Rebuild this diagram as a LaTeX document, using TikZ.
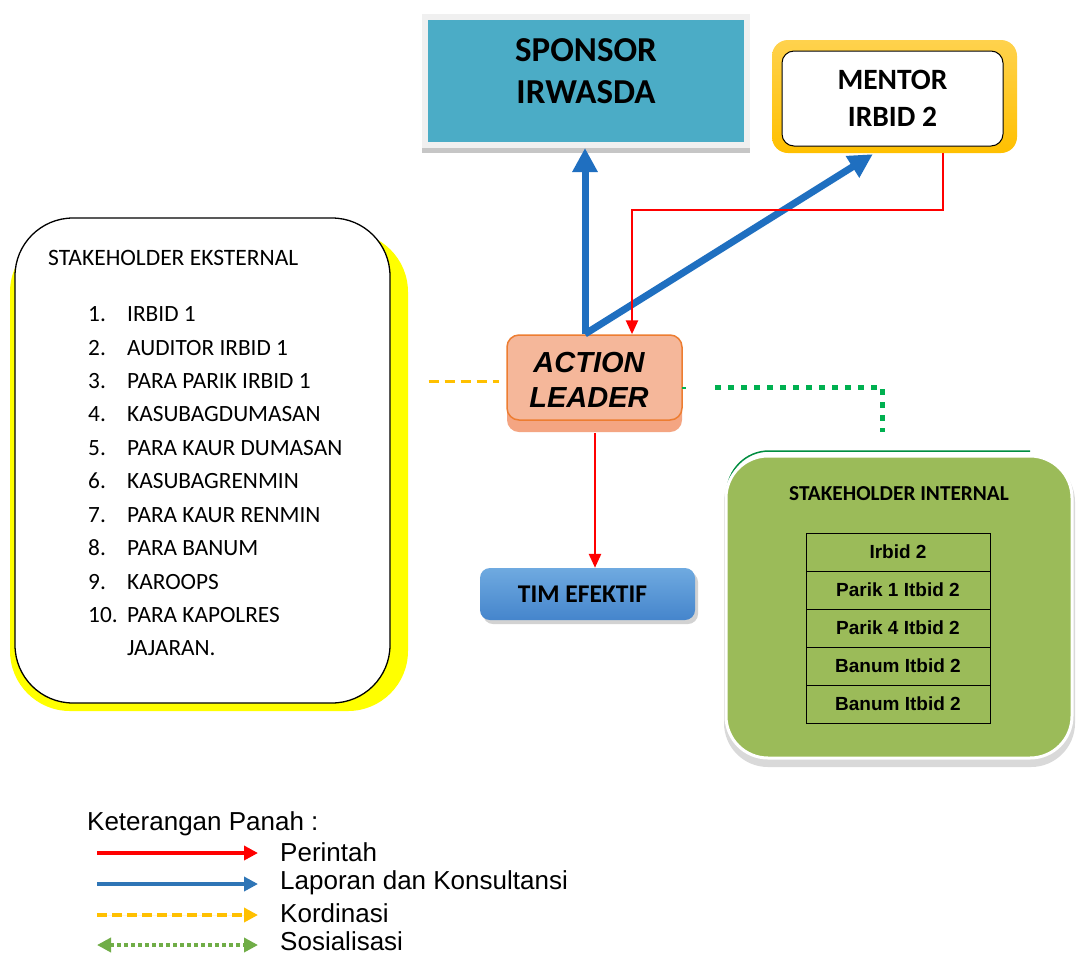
\documentclass[tikz,border=0pt]{standalone}
\usepackage{fontspec}
\setmainfont{Carlito}
\newfontfamily\arial{Liberation Sans}
\usetikzlibrary{arrows.meta,calc}
\definecolor{teal}{HTML}{4BACC6}
\definecolor{gold}{HTML}{FFC000}
\definecolor{goldlt}{HTML}{FFD24D}
\definecolor{alfill}{HTML}{F5B79A}
\definecolor{alband}{HTML}{F4A582}
\definecolor{alline}{HTML}{ED7D31}
\definecolor{timtop}{HTML}{6FAAE0}
\definecolor{timbot}{HTML}{4585CC}
\definecolor{intgreen}{HTML}{9BBB59}
\definecolor{arrblue}{HTML}{1F6FC0}
\definecolor{legblue}{HTML}{2E75B6}
\definecolor{arrred}{HTML}{FF0000}
\definecolor{dotgreen}{HTML}{00B050}
\definecolor{leggreen}{HTML}{70AD47}
\definecolor{yel}{HTML}{FFFF00}
\begin{document}
\begin{tikzpicture}[x=1pt,y=-1pt,
  lapor/.style={draw=arrblue,line width=7pt,-{Triangle[width=24pt,length=24pt]}},
  perintah/.style={draw=arrred,line width=2.6pt,-{Triangle[width=12pt,length=14pt]}},
  kord/.style={draw=gold,line width=3pt,dash pattern=on 10pt off 6pt},
  sosial/.style={draw=dotgreen,line width=5pt,dash pattern=on 6pt off 7pt},
  legarrow/.style={line width=3.5pt,-{Triangle[width=14pt,length=14pt]}},
  cell/.style={draw=black,line width=1pt,minimum width=184pt,minimum height=38pt,inner sep=0pt,
     font=\arial\bfseries\fontsize{19}{22}\selectfont},
  eitem/.style={anchor=west,inner sep=0pt,font=\fontsize{23.3}{27}\selectfont},
  legtext/.style={anchor=west,inner sep=0pt,font=\arial\fontsize{26}{30}\selectfont}
]
\useasboundingbox (0,0) rectangle (1076,954);
\fill[white] (0,0) rectangle (1076,954);

% ---------- Sponsor ----------
\fill[gray!45] (422,140) rectangle (750,153);
\node[draw=gray!12,line width=6pt,fill=teal,minimum width=322pt,minimum height=128pt,inner sep=0pt]
  (sponsor) at (586,81) {};
\node[font=\bfseries\fontsize{35}{42}\selectfont,align=center,inner sep=0pt] (sponsorT) at (586,71) {SPONSOR\\IRWASDA};

% ---------- Mentor ----------
\node[rounded corners=16pt,top color=goldlt,bottom color=gold,minimum width=245pt,minimum height=113pt,inner sep=0pt]
  (mentor) at (894.5,96.5) {};
\node[rounded corners=12pt,draw=black,line width=1pt,fill=white,minimum width=221pt,minimum height=95pt,
  align=center,font=\bfseries\fontsize{29.5}{37}\selectfont,inner sep=0pt] (mentorT) at (892.5,98.5) {MENTOR\\IRBID 2};

% ---------- Action leader ----------
\fill[alband,rounded corners=12pt] (507,345) rectangle (682,432);
\node[rounded corners=12pt,draw=alline,line width=1.5pt,fill=alfill,minimum width=175pt,minimum height=85pt,inner sep=0pt]
  (al) at (594.5,377.5) {};
\node[align=center,font=\arial\bfseries\itshape\fontsize{29}{35}\selectfont,inner sep=0pt] (alT) at (589,380)
  {ACTION\\LEADER};

% ---------- Tim efektif ----------
\fill[gray!35,rounded corners=10pt] (483,572) rectangle (698,624);
\node[rounded corners=10pt,top color=timtop,bottom color=timbot,minimum width=215pt,minimum height=52pt,
  font=\bfseries\fontsize{25.5}{30}\selectfont,inner sep=0pt] (tim) at (587.5,594) {\hspace*{-10pt}TIM EFEKTIF};

% ---------- Stakeholder eksternal ----------
\fill[yel,rounded corners=60pt] (10,232) rectangle (408,711);
\node[rounded corners=58pt,draw=black,line width=1.3pt,fill=white,minimum width=375pt,minimum height=485pt,inner sep=0pt]
  (eks) at (202.5,460.5) {};
\node[anchor=west,inner sep=0pt,font=\fontsize{23.5}{27}\selectfont] (etitle) at (48,258) {STAKEHOLDER EKSTERNAL};
\foreach \n/\t/\y [count=\i] in {1./IRBID 1/314, 2./AUDITOR IRBID 1/348, 3./PARA PARIK IRBID 1/381,
   4./KASUBAGDUMASAN/414, 5./PARA KAUR DUMASAN/448, 6./KASUBAGRENMIN/481, 7./PARA KAUR RENMIN/515,
   8./PARA BANUM/548, 9./KAROOPS/582, 10./PARA KAPOLRES/615}{
  \node[eitem] (en\i) at (88,\y) {\n};
  \node[eitem] (et\i) at (127,\y) {\t};
}
\node[eitem] (et11) at (127,648) {JAJARAN.};

% ---------- Stakeholder internal ----------
\draw[draw=dotgreen!80!black,line width=1.5pt,rounded corners=42pt] (727,520) -- (727,451) -- (1030,451);
\fill[gray!30,rounded corners=44pt] (724,458) rectangle (1075,767);
\node[rounded corners=42pt,draw=white,line width=3pt,fill=intgreen,minimum width=346pt,minimum height=302pt,inner sep=0pt]
  (int) at (899,607) {};
\node[font=\bfseries\fontsize{21.3}{25}\selectfont,inner sep=0pt] (ititle) at (899,494) {STAKEHOLDER INTERNAL};
\node[cell] (r1) at (898,552) {Irbid 2};
\node[cell] (r2) at (898,590) {Parik 1 Itbid 2};
\node[cell] (r3) at (898,628) {Parik 4 Itbid 2};
\node[cell] (r4) at (898,666) {Banum Itbid 2};
\node[cell] (r5) at (898,704) {Banum Itbid 2};

% ---------- Connectors ----------
\coordinate (alTop) at (585,334);
\draw[lapor] (alTop) -- (sponsor.south -| alTop);
\draw[lapor] (alTop) -- ($(mentor.south west)+(101,1)$);
\coordinate (rTurnA) at (943,210);
\coordinate (rTurnB) at (632,210);
\draw[perintah] (mentor.south -| rTurnA) -- (rTurnA) -- (rTurnB) -- (al.north -| rTurnB);
\coordinate (rDown) at (595,0);
\draw[perintah] ($(al.south -| rDown)+(0,12)$) -- (tim.north -| rDown);
\coordinate (kY) at (0,381);
\draw[kord,shorten <=38pt,shorten >=7pt] (eks.east |- kY) -- (al.west |- kY);
\draw[dotgreen,line width=1.5pt] (682,388) -- (686,388);
\coordinate (gStart) at (715,387);
\coordinate (gTurn) at (882,387);
\coordinate (gEnd) at (882,432);
\draw[sosial] (gStart) -- (gTurn) -- (gEnd);

% ---------- Legend ----------
\node[legtext] (ket) at (87,824) {Keterangan Panah :};
\coordinate (l1a) at (97,853); \coordinate (l1b) at (258,853);
\coordinate (l2a) at (97,884); \coordinate (l2b) at (258,884);
\coordinate (l3a) at (97,915); \coordinate (l3b) at (258,915);
\coordinate (l4a) at (97,945); \coordinate (l4b) at (258,945);
\draw[legarrow,draw=arrred,fill=arrred] (l1a) -- (l1b);
\draw[legarrow,draw=legblue,fill=legblue] (l2a) -- (l2b);
\draw[legarrow,draw=gold,fill=gold,dash pattern=on 10pt off 5pt] (l3a) -- (l3b);
\draw[line width=3.5pt,draw=leggreen,dash pattern=on 4pt off 3pt,{Triangle[width=14pt,length=14pt,fill=leggreen]}-{Triangle[width=14pt,length=14pt,fill=leggreen]}] (l4a) -- (l4b);
\node[legtext] (lt1) at (280,852) {Perintah};
\node[legtext] (lt2) at (280,883) {Laporan dan Konsultansi};
\node[legtext] (lt3) at (280,913) {Kordinasi};
\node[legtext] (lt4) at (280,941) {Sosialisasi};
\end{tikzpicture}
\end{document}
